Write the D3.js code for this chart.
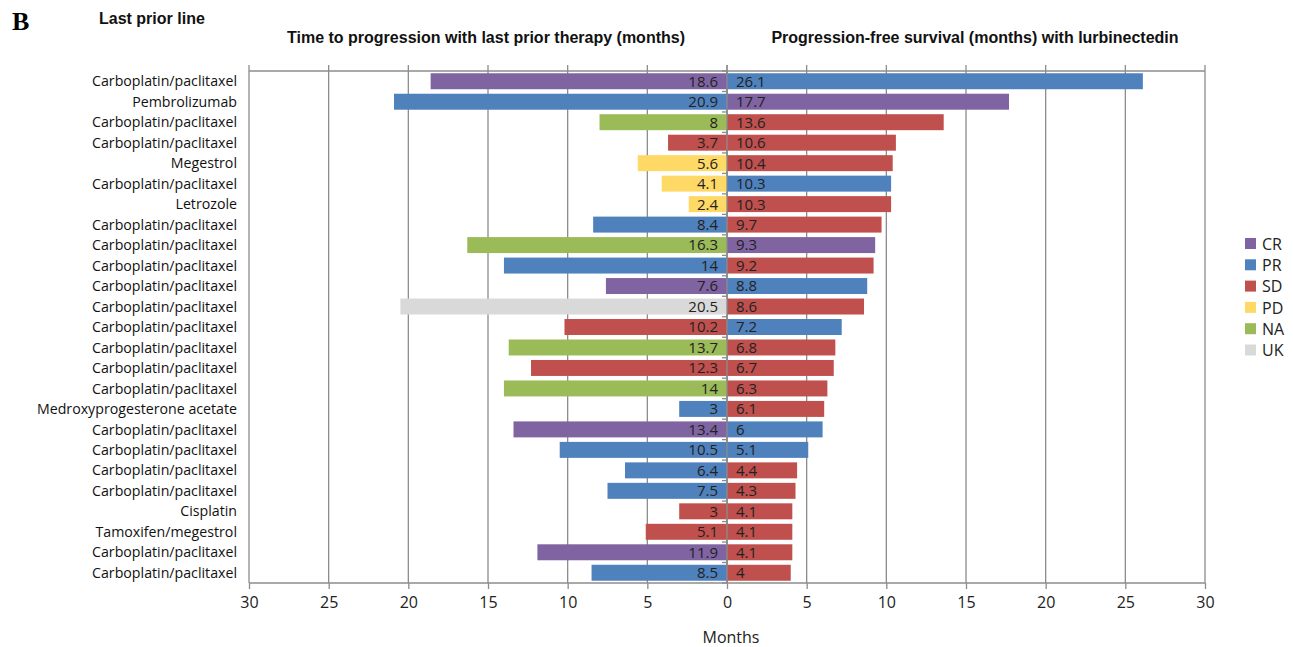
<!DOCTYPE html>
<meta charset="utf-8">
<style>
body { margin: 0; background: white; font-family: 'Open Sans', sans-serif; }
.grid line { stroke: #8c8c8c; stroke-width: 1.3px; }
.axis path, .axis line { stroke: #8c8c8c; stroke-width: 1.3px; }
.axis text { font-family: 'Open Sans', sans-serif; font-size: 16px; fill: #222; }
.val { font-size: 15px; fill: #222; }
.ttl { font-family: 'Liberation Sans', Arial, sans-serif; font-weight: bold; font-size: 16px; fill: #111; }
</style>
<body>
<script src="https://cdn.jsdelivr.net/npm/d3@7"></script>
<script>
// rows top to bottom
var therapies = ["Carboplatin/paclitaxel", "Pembrolizumab", "Carboplatin/paclitaxel", "Carboplatin/paclitaxel",
  "Megestrol", "Carboplatin/paclitaxel", "Letrozole", "Carboplatin/paclitaxel", "Carboplatin/paclitaxel",
  "Carboplatin/paclitaxel", "Carboplatin/paclitaxel", "Carboplatin/paclitaxel", "Carboplatin/paclitaxel",
  "Carboplatin/paclitaxel", "Carboplatin/paclitaxel", "Carboplatin/paclitaxel", "Medroxyprogesterone acetate",
  "Carboplatin/paclitaxel", "Carboplatin/paclitaxel", "Carboplatin/paclitaxel", "Carboplatin/paclitaxel",
  "Cisplatin", "Tamoxifen/megestrol", "Carboplatin/paclitaxel", "Carboplatin/paclitaxel"];
var ttpPrior = [18.6, 20.9, 8, 3.7, 5.6, 4.1, 2.4, 8.4, 16.3, 14, 7.6, 20.5, 10.2, 13.7, 12.3, 14, 3, 13.4, 10.5, 6.4, 7.5, 3, 5.1, 11.9, 8.5];
var respPrior = ["CR", "PR", "NA", "SD", "PD", "PD", "PD", "PR", "NA", "PR", "CR", "UK", "SD", "NA", "SD", "NA", "PR", "CR", "PR", "PR", "PR", "SD", "SD", "CR", "PR"];
var pfsLurbi = [26.1, 17.7, 13.6, 10.6, 10.4, 10.3, 10.3, 9.7, 9.3, 9.2, 8.8, 8.6, 7.2, 6.8, 6.7, 6.3, 6.1, 6, 5.1, 4.4, 4.3, 4.1, 4.1, 4.1, 4];
var respLurbi = ["PR", "CR", "SD", "SD", "SD", "PR", "SD", "SD", "CR", "SD", "PR", "SD", "PR", "SD", "SD", "SD", "SD", "PR", "PR", "SD", "SD", "SD", "SD", "SD", "SD"];
var responses = ["CR", "PR", "SD", "PD", "NA", "UK"];
var respColors = ["#8064A2", "#4F81BD", "#C0504D", "#FFD966", "#9BBB59", "#D9D9D9"];
var ticks = [0, 5, 10, 15, 20, 25, 30];

var W = 1293, H = 647;
var x0 = 727, span = 478, plotTop = 71, plotBottom = 583;

var svg = d3.select("body").append("svg").attr("width", W).attr("height", H);

var color = d3.scaleOrdinal().domain(responses).range(respColors);
var xL = d3.scaleLinear().domain([0, 30]).range([x0, x0 - span]);
var xR = d3.scaleLinear().domain([0, 30]).range([x0, x0 + span]);
var idx = d3.range(therapies.length);
var y = d3.scaleBand().domain(idx).range([plotTop, plotBottom]).paddingInner(0.22).paddingOuter(0.11);

// grid
var grid = svg.append("g").attr("class", "grid");
ticks.forEach(function(t) {
  grid.append("line").attr("x1", xL(t)).attr("x2", xL(t)).attr("y1", plotTop - 6).attr("y2", plotBottom);
  grid.append("line").attr("x1", xR(t)).attr("x2", xR(t)).attr("y1", plotTop - 6).attr("y2", plotBottom);
});
grid.append("line").attr("x1", xL(30)).attr("x2", xR(30)).attr("y1", plotTop).attr("y2", plotTop);

// bottom axis
svg.append("g").attr("class", "axis").attr("transform", "translate(0," + plotBottom + ")")
  .call(d3.axisBottom(xL).tickValues(ticks).tickSize(6).tickPadding(8));
svg.append("g").attr("class", "axis").attr("transform", "translate(0," + plotBottom + ")")
  .call(d3.axisBottom(xR).tickValues(ticks.slice(1)).tickSize(6).tickPadding(8));
svg.selectAll(".axis .domain").remove();
svg.append("line").attr("x1", xL(30)).attr("x2", xR(30)).attr("y1", plotBottom).attr("y2", plotBottom)
  .style("stroke", "#8c8c8c").style("stroke-width", 1.3);

// bars
var rows = svg.append("g").selectAll("g").data(idx).enter().append("g");
rows.append("rect")
  .attr("x", function(i) { return xL(ttpPrior[i]); })
  .attr("y", function(i) { return y(i); })
  .attr("width", function(i) { return x0 - xL(ttpPrior[i]); })
  .attr("height", y.bandwidth())
  .attr("fill", function(i) { return color(respPrior[i]); });
rows.append("rect")
  .attr("x", x0)
  .attr("y", function(i) { return y(i); })
  .attr("width", function(i) { return xR(pfsLurbi[i]) - x0; })
  .attr("height", y.bandwidth())
  .attr("fill", function(i) { return color(respLurbi[i]); });

rows.append("text").attr("class", "val")
  .attr("x", x0 - 9).attr("y", function(i) { return y(i) + y.bandwidth() / 2; })
  .attr("dy", "0.36em").attr("text-anchor", "end")
  .text(function(i) { return ttpPrior[i]; });
rows.append("text").attr("class", "val")
  .attr("x", x0 + 9).attr("y", function(i) { return y(i) + y.bandwidth() / 2; })
  .attr("dy", "0.36em")
  .text(function(i) { return pfsLurbi[i]; });

// zero line with small category ticks
svg.append("line").attr("x1", x0).attr("x2", x0).attr("y1", plotTop).attr("y2", plotBottom)
  .style("stroke", "#8c8c8c").style("stroke-width", 1.3);
d3.range(therapies.length + 1).forEach(function(i) {
  var yy = plotTop + i * y.step();
  svg.append("line").attr("x1", x0 - 5).attr("x2", x0).attr("y1", yy).attr("y2", yy)
    .style("stroke", "#8c8c8c").style("stroke-width", 1.3);
});

// therapy labels
svg.append("g").selectAll("text").data(idx).enter().append("text")
  .attr("x", 237).attr("y", function(i) { return y(i) + y.bandwidth() / 2; })
  .attr("dy", "0.36em").attr("text-anchor", "end")
  .style("font-size", "14.2px").style("fill", "#111")
  .text(function(i) { return therapies[i]; });

// titles
svg.append("text").attr("x", 12).attr("y", 30)
  .style("font-family", "'Liberation Serif', serif").style("font-weight", "bold").style("font-size", "26px")
  .text("B");
svg.append("text").attr("class", "ttl").attr("x", 99).attr("y", 24).text("Last prior line");
svg.append("text").attr("class", "ttl").attr("x", 486).attr("y", 43).attr("text-anchor", "middle")
  .text("Time to progression with last prior therapy (months)");
svg.append("text").attr("class", "ttl").attr("x", 975).attr("y", 43).attr("text-anchor", "middle")
  .text("Progression-free survival (months) with lurbinectedin");
svg.append("text").attr("x", 731).attr("y", 643).attr("text-anchor", "middle")
  .style("font-size", "16px").style("fill", "#222").text("Months");

// legend
var leg = svg.append("g").selectAll("g").data(responses).enter().append("g")
  .attr("transform", function(d, i) { return "translate(1245," + (238 + i * 21.3) + ")"; });
leg.append("rect").attr("width", 11).attr("height", 11).attr("fill", function(d) { return color(d); });
leg.append("text").attr("x", 17).attr("y", 6).attr("dy", "0.36em")
  .style("font-size", "16px").style("fill", "#222").text(function(d) { return d; });
</script>
</body>
